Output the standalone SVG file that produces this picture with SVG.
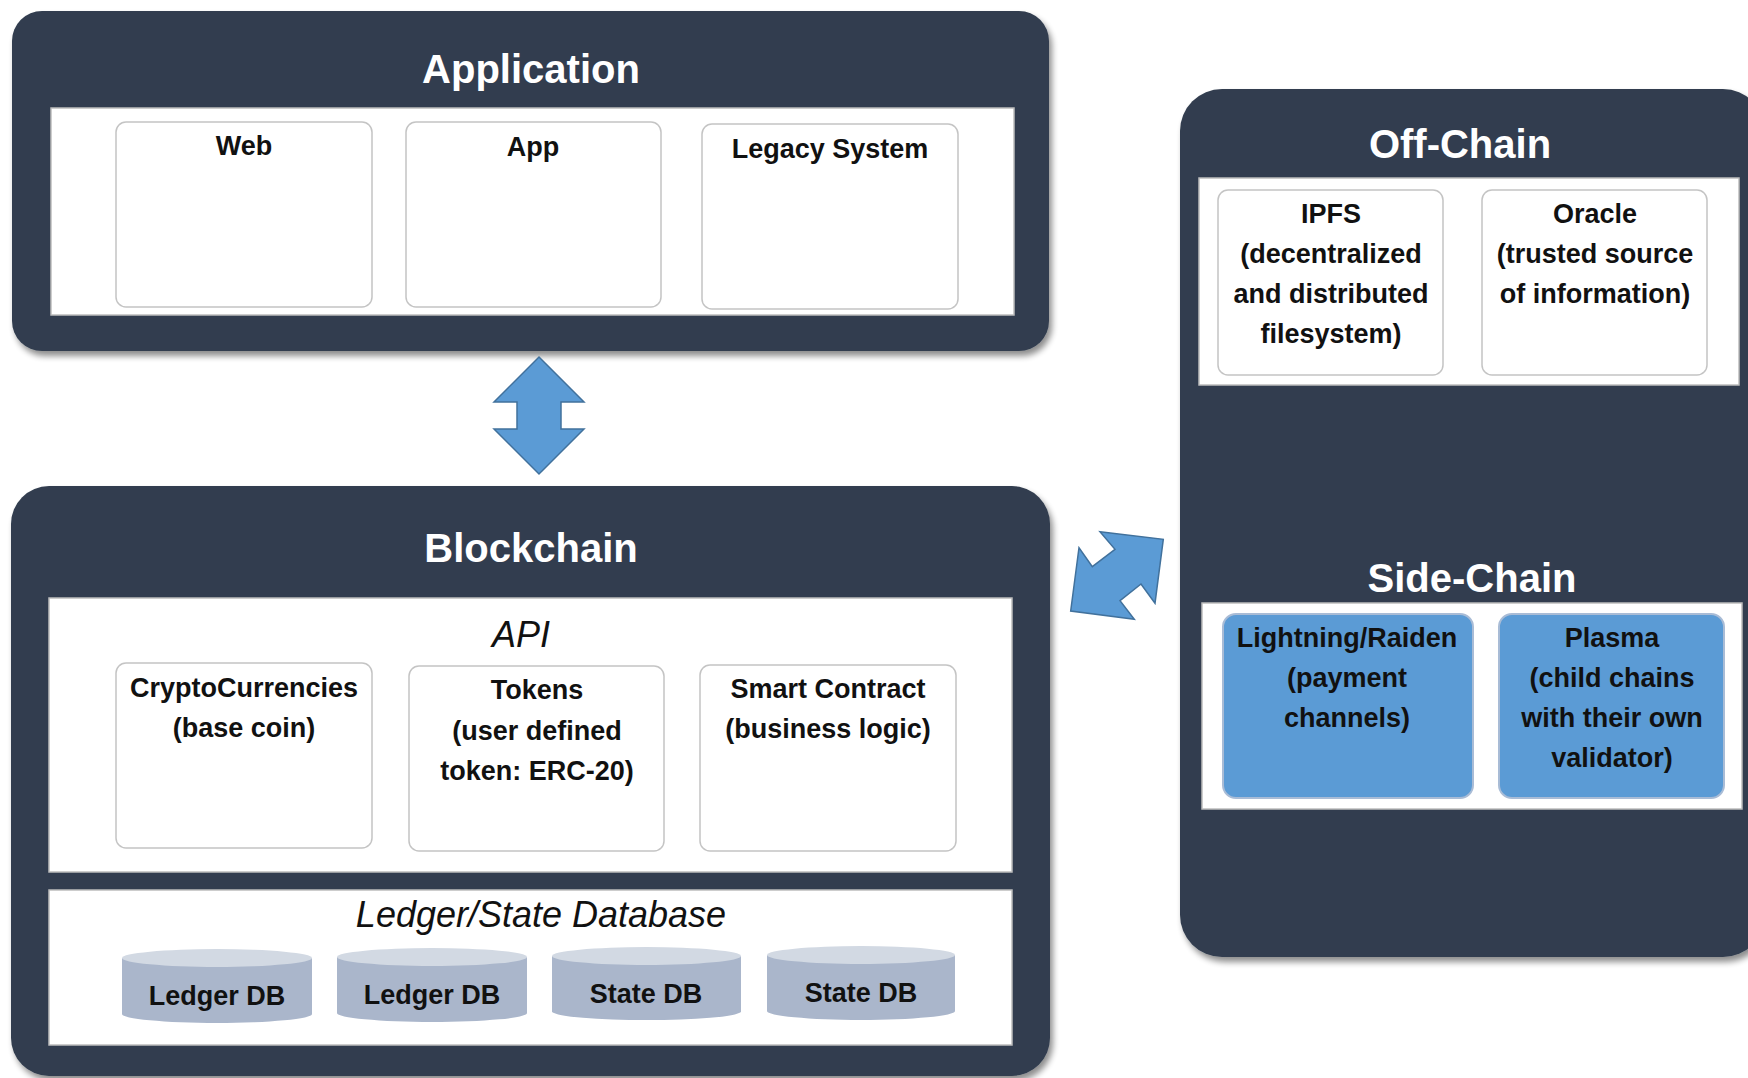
<svg xmlns="http://www.w3.org/2000/svg" width="1748" height="1078" viewBox="0 0 1748 1078">
<defs>
<filter id="sh" x="-5%" y="-5%" width="115%" height="115%">
<feGaussianBlur in="SourceAlpha" stdDeviation="3"/>
<feOffset dx="3" dy="5" result="b"/>
<feComponentTransfer><feFuncA type="linear" slope="0.45"/></feComponentTransfer>
<feMerge><feMergeNode/><feMergeNode in="SourceGraphic"/></feMerge>
</filter>
<style>
.dark{fill:#323e4f;}
.panel{fill:#fff;stroke:#bdbdbd;stroke-width:1.5;}
.box{fill:#fff;stroke:#c4c4c4;stroke-width:1.5;}
.blue{fill:#5b9bd5;stroke:#a9bcd6;stroke-width:2;}
.title{font-family:"Liberation Sans",Arial,sans-serif;font-weight:bold;font-size:40px;fill:#fff;text-anchor:middle;}
.lbl{font-family:"Liberation Sans",Arial,sans-serif;font-weight:bold;font-size:27px;fill:#111;text-anchor:middle;}
.it{font-family:"Liberation Sans",Arial,sans-serif;font-style:italic;font-size:36px;fill:#111;text-anchor:middle;}
.cylb{fill:#aab6cb;}
.cylt{fill:#d2d9e3;}
.arrow{fill:#5b9bd5;stroke:#41719c;stroke-width:1.5;stroke-linejoin:miter;}
</style>
</defs>
<rect width="1748" height="1078" fill="#fff"/>

<g id="application">
<rect class="dark" x="12" y="11" width="1037" height="340" rx="30" filter="url(#sh)"/>
<text class="title" x="531" y="83">Application</text>
<rect class="panel" x="51" y="108" width="963" height="207"/>
<g id="web"><rect class="box" x="116" y="122" width="256" height="185" rx="10"/><text class="lbl" x="244" y="155">Web</text></g>
<g id="app"><rect class="box" x="406" y="122" width="255" height="185" rx="10"/><text class="lbl" x="533" y="156">App</text></g>
<g id="legacy"><rect class="box" x="702" y="124" width="256" height="185" rx="10"/><text class="lbl" x="830" y="158">Legacy System</text></g>
</g>

<g id="blockchain">
<rect class="dark" x="11" y="486" width="1039" height="590" rx="38" filter="url(#sh)"/>
<text class="title" x="531" y="562">Blockchain</text>
<rect class="panel" x="49" y="598" width="963" height="274"/>
<text class="it" x="521" y="647">API</text>
<g id="crypto"><rect class="box" x="116" y="663" width="256" height="185" rx="10"/>
<text class="lbl" x="244" y="697">CryptoCurrencies</text><text class="lbl" x="244" y="737">(base coin)</text></g>
<g id="tokens"><rect class="box" x="409" y="666" width="255" height="185" rx="10"/>
<text class="lbl" x="537" y="699">Tokens</text><text class="lbl" x="537" y="740">(user defined</text><text class="lbl" x="537" y="780">token: ERC-20)</text></g>
<g id="smart"><rect class="box" x="700" y="665" width="256" height="186" rx="10"/>
<text class="lbl" x="828" y="698">Smart Contract</text><text class="lbl" x="828" y="738">(business logic)</text></g>
<rect class="panel" x="49" y="890" width="963" height="155"/>
<text class="it" x="541" y="927">Ledger/State Database</text>
<g id="ledger1">
<path class="cylb" d="M122,958 V1014 A95,9 0 0 0 312,1014 V958 Z"/>
<ellipse class="cylt" cx="217" cy="958" rx="95" ry="9"/>
<text class="lbl" x="217" y="1005">Ledger DB</text></g>
<g id="ledger2">
<path class="cylb" d="M337,957 V1013 A95,9 0 0 0 527,1013 V957 Z"/>
<ellipse class="cylt" cx="432" cy="957" rx="95" ry="9"/>
<text class="lbl" x="432" y="1004">Ledger DB</text></g>
<g id="state1">
<path class="cylb" d="M552,956 V1012 A95,9 0 0 0 741,1012 V956 Z"/>
<ellipse class="cylt" cx="646.5" cy="956" rx="94.5" ry="9"/>
<text class="lbl" x="646" y="1003">State DB</text></g>
<g id="state2">
<path class="cylb" d="M767,955 V1011 A94,9 0 0 0 955,1011 V955 Z"/>
<ellipse class="cylt" cx="861" cy="955" rx="94" ry="9"/>
<text class="lbl" x="861" y="1002">State DB</text></g>
</g>

<g id="offchain">
<rect class="dark" x="1180" y="89" width="585" height="868" rx="42" filter="url(#sh)"/>
<text class="title" x="1460" y="158">Off-Chain</text>
<rect class="panel" x="1199" y="178" width="540" height="207"/>
<g id="ipfs"><rect class="box" x="1218" y="190" width="225" height="185" rx="10"/>
<text class="lbl" x="1331" y="223">IPFS</text><text class="lbl" x="1331" y="263">(decentralized</text><text class="lbl" x="1331" y="303">and distributed</text><text class="lbl" x="1331" y="343">filesystem)</text></g>
<g id="oracle"><rect class="box" x="1482" y="190" width="225" height="185" rx="10"/>
<text class="lbl" x="1595" y="223">Oracle</text><text class="lbl" x="1595" y="263">(trusted source</text><text class="lbl" x="1595" y="303">of information)</text></g>
</g>

<g id="sidechain">
<text class="title" x="1472" y="592">Side-Chain</text>
<rect class="panel" x="1202" y="603" width="540" height="206"/>
<g id="lightning"><rect class="blue" x="1223" y="614" width="250" height="184" rx="13"/>
<text class="lbl" x="1347" y="647">Lightning/Raiden</text><text class="lbl" x="1347" y="687">(payment</text><text class="lbl" x="1347" y="727">channels)</text></g>
<g id="plasma"><rect class="blue" x="1499" y="614" width="225" height="184" rx="13"/>
<text class="lbl" x="1612" y="647">Plasma</text><text class="lbl" x="1612" y="687">(child chains</text><text class="lbl" x="1612" y="727">with their own</text><text class="lbl" x="1612" y="767">validator)</text></g>
</g>

<g id="connectors">
<polygon class="arrow" points="539,357 584,402 561,402 561,429 584,429 539,474 494,429 517,429 517,402 494,402"/>
<polygon class="arrow" points="1100,531.7 1163.3,539.3 1155,603.3 1141,584 1120,600.7 1134.3,619.3 1070.7,611 1079,547.7 1092.3,566.7 1115,549.3"/>
</g>
</svg>
